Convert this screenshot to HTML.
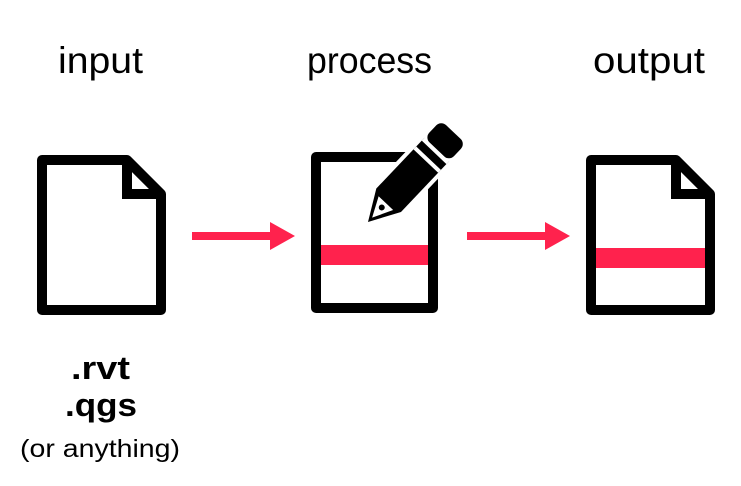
<!DOCTYPE html>
<html><head><meta charset="utf-8"><style>
html,body{margin:0;padding:0;background:#fff;}
svg{display:block}
text{font-family:"Liberation Sans",sans-serif;fill:#000}
</style></head><body>
<svg width="741" height="486" viewBox="0 0 741 486" xmlns="http://www.w3.org/2000/svg">
<rect width="741" height="486" fill="#fff"/>
<text x="58" y="73" font-size="37" textLength="85" lengthAdjust="spacingAndGlyphs">input</text>
<text x="307" y="73" font-size="37" textLength="125" lengthAdjust="spacingAndGlyphs">process</text>
<text x="593" y="73" font-size="37" textLength="112" lengthAdjust="spacingAndGlyphs">output</text>

<!-- input doc -->
<g fill="none" stroke="#000" stroke-width="10" stroke-linejoin="round">
<path d="M42,160 H127 L161,194 V310 H42 Z"/>
<path d="M127,160 V194 H161" stroke-linejoin="miter"/>
</g>

<!-- arrows -->
<rect x="192" y="232" width="80" height="8" fill="#ff224d"/>
<polygon points="270,222 295,236 270,250" fill="#ff224d"/>
<rect x="467" y="232" width="80" height="8" fill="#ff224d"/>
<polygon points="545,222 570,236 545,250" fill="#ff224d"/>

<!-- process doc -->
<rect x="316" y="157" width="117" height="151" fill="none" stroke="#000" stroke-width="10" stroke-linejoin="round"/>
<rect x="321" y="245" width="107" height="20" fill="#ff224d"/>
<!-- pencil -->
<g transform="translate(368,222) rotate(-46.5)">
 <path d="M0,0 L30,-17 H100 V17 H30 Z" fill="#000" stroke="#fff" stroke-width="8" stroke-linejoin="round"/>
 <path d="M0,0 L30,-17 H100 V17 H30 Z" fill="#000"/>
 <rect x="100" y="-17" width="24" height="34" rx="7" fill="#000" stroke="#fff" stroke-width="6"/>
 <rect x="100" y="-17" width="24" height="34" rx="7" fill="#000"/>
 <rect x="84" y="-17" width="4" height="34" fill="#fff"/>
 <rect x="96" y="-17" width="4" height="34" fill="#fff"/>
 <path d="M6,0 L26,-10 L26,10 Z" fill="#fff"/>
 <circle cx="20" cy="0" r="3" fill="#000"/>
</g>

<!-- output doc -->
<g fill="none" stroke="#000" stroke-width="10" stroke-linejoin="round">
<path d="M591,160 H676 L710,194 V310 H591 Z"/>
<path d="M676,160 V194 H710" stroke-linejoin="miter"/>
</g>
<rect x="596" y="248" width="109" height="20" fill="#ff224d"/>

<text x="71" y="379" font-size="32" font-weight="bold" textLength="59" lengthAdjust="spacingAndGlyphs">.rvt</text>
<text x="65" y="416" font-size="32" font-weight="bold" textLength="72" lengthAdjust="spacingAndGlyphs">.qgs</text>
<text x="20" y="457" font-size="25" textLength="160" lengthAdjust="spacingAndGlyphs">(or anything)</text>
</svg>
</body></html>
